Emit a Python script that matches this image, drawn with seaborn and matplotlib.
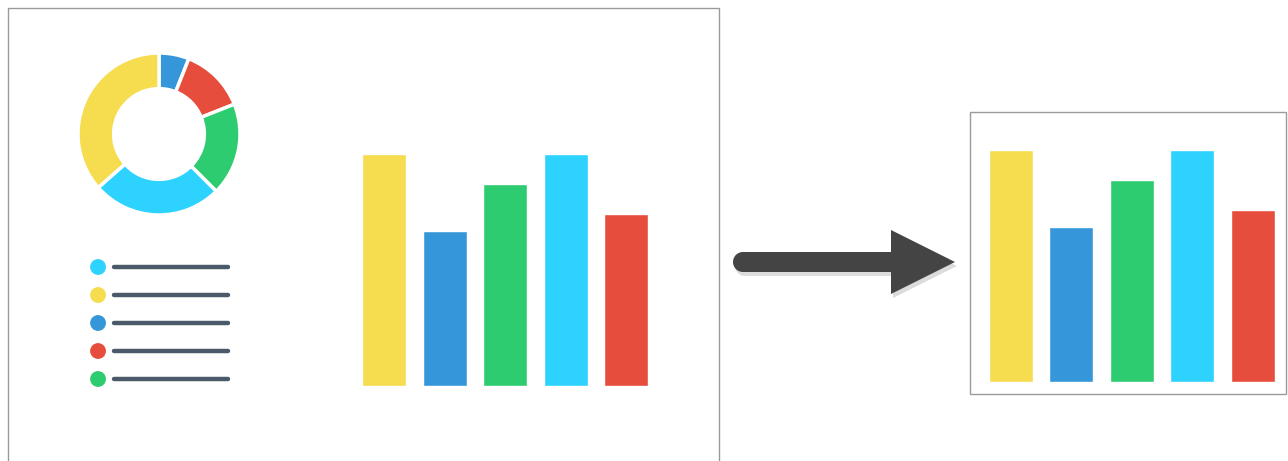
import numpy as np
import pandas as pd
import matplotlib
matplotlib.use("Agg")
import matplotlib.pyplot as plt
import seaborn as sns
from matplotlib.patches import Rectangle, Polygon, Circle

# colores del tablero
yellow = "#F6DC4F"
blue = "#3597DA"
green = "#2ECC71"
cyan = "#2ED2FF"
red = "#E74D3C"

# datos del grafico de barras
bar_names = ["A", "B", "C", "D", "E"]
bar_values = [100, 67, 87, 100, 74]
bar_colors = [yellow, blue, green, cyan, red]

# datos del anillo (sentido horario desde arriba)
donut_values = [6, 13, 18.5, 26, 36.5]
donut_colors = [blue, red, green, cyan, yellow]

# leyenda
legend_colors = [cyan, yellow, blue, red, green]

sns.set_style("white")
W, H = 1288, 461
fig = plt.figure(figsize=(W / 100, H / 100), dpi=100)


def px_axes(left, top, width, height):
    # ejes ubicados en pixeles (origen arriba a la izquierda)
    return fig.add_axes([left / W, (H - top - height) / H, width / W, height / H])


# fondo con marcos y flecha
bg = fig.add_axes([0, 0, 1, 1])
bg.set_xlim(0, W)
bg.set_ylim(H, 0)
bg.axis("off")
bg.add_patch(Rectangle((8.5, 8.5), 710.5, 470, fill=False, ec="#9a9a9a", lw=1))
bg.add_patch(Rectangle((970.5, 111.5), 316, 282, fill=False, ec="#9a9a9a", lw=1))

# flecha con sombra
for dx, dy, c in [(2, 4, "#dcdcdc"), (0, 0, "#444444")]:
    bg.add_patch(Circle((743 + dx, 262 + dy), 10, fc=c, ec="none"))
    bg.add_patch(Rectangle((743 + dx, 252 + dy), 149, 20, fc=c, ec="none"))
    bg.add_patch(Polygon([(891 + dx, 230 + dy), (955 + dx, 262 + dy), (891 + dx, 294 + dy)],
                         closed=True, fc=c, ec="none"))

# anillo
ax_donut = px_axes(159 - 81, 134 - 81, 162, 162)
ax_donut.pie(donut_values, colors=donut_colors, startangle=90, counterclock=False,
             radius=1, wedgeprops=dict(width=0.44, edgecolor="white", linewidth=2.5))
ax_donut.set_xlim(-1, 1)
ax_donut.set_ylim(-1, 1)
ax_donut.set_aspect("equal")
ax_donut.axis("off")

# leyenda
ax_leg = px_axes(85, 253, 150, 140)
idx = np.arange(len(legend_colors))
for i, c in enumerate(legend_colors):
    ax_leg.plot([0.125, 1.0], [i, i], color="#4b5a6a", lw=3.2, solid_capstyle="round")
ax_leg.scatter(np.zeros(len(legend_colors)), idx, s=130, c=legend_colors, edgecolors="none")
ax_leg.set_xlim(-0.1, 1.05)
ax_leg.set_ylim(len(legend_colors) - 0.5, -0.5)
ax_leg.axis("off")

df = pd.DataFrame({"name": bar_names, "value": bar_values})


def draw_bars(left_center, bottom):
    step = 60.5
    ax = px_axes(left_center - step / 2, bottom - 240, step * 5, 240)
    sns.barplot(data=df, x="name", y="value", hue="name", palette=bar_colors,
                width=44 / step, legend=False, ax=ax, saturation=1)
    ax.set_xlim(-0.5, 4.5)
    ax.set_ylim(0, 240 / 2.32)
    ax.axis("off")
    return ax


draw_bars(384, 386)
draw_bars(1010.5, 382)

plt.savefig("out.png", dpi=100)
